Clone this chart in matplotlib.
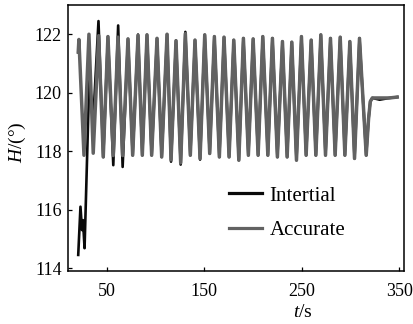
import matplotlib as mpl
import matplotlib.pyplot as plt

# accurate heading: start, alternating peaks / troughs, settle
acc_t = [20.5, 21.2, 26.4, 31.5, 35.9, 41.5, 46.2, 51.0, 56.5, 61.3, 66.1,
         71.6, 76.4, 81.9, 86.3, 91.1, 95.9, 101.4, 106.2, 111.7, 115.8,
         120.9, 125.7, 130.5, 135.6, 140.4, 145.6, 150.4, 155.5, 160.3, 165.4,
         170.2, 175.4, 180.2, 185.4, 190.1, 195.2, 200.1, 205.2, 210.0, 215.2,
         219.9, 225.0, 230.2, 235.0, 239.8, 244.6, 249.7, 254.5, 259.7, 264.5,
         269.6, 274.4, 279.5, 284.3, 289.5, 294.3, 299.4, 304.2, 309.3, 316.2,
         318.6, 320.4, 322.5, 330.0, 340.0, 348.0]
acc_h = [121.39, 121.82, 117.86, 122.00, 117.93, 121.95, 117.80, 121.92, 117.85, 121.90, 117.85,
         121.84, 117.86, 121.96, 117.86, 121.98, 117.86, 121.86, 117.80, 122.00, 117.70,
         121.78, 117.60, 122.02, 117.86, 121.80, 117.75, 121.98, 117.92, 121.92, 117.80,
         121.90, 117.80, 121.80, 117.69, 121.86, 117.86, 121.84, 117.86, 121.92, 117.86,
         121.86, 117.80, 121.75, 117.80, 121.73, 117.69, 121.92, 117.86, 121.80, 117.86,
         121.98, 117.86, 121.86, 117.86, 121.90, 117.86, 121.75, 117.75, 121.86, 117.86,
         119.10, 119.70, 119.82, 119.82, 119.82, 119.85]

# inertial heading before it locks on
ine_t_start = [20.5, 22.8, 24.4, 25.4, 27.0, 31.8, 36.0, 41.3, 46.2, 51.0, 56.5, 61.5, 66.1]
ine_h_start = [114.45, 116.10, 115.30, 115.64, 114.68, 120.42, 119.10, 122.45, 117.80, 121.92, 117.52, 122.30, 117.46]
# afterwards it follows the accurate curve, with these small excursions
ine_tips = {81.9: 121.99, 115.8: 117.64, 125.7: 117.54, 130.5: 122.08, 145.6: 117.71, 330.0: 119.76}

labels = ["Intertial", "Accurate"]
xticks = [50, 150, 250, 350]
yticks = [114, 116, 118, 120, 122]

ine_t = ine_t_start + acc_t[11:]
ine_h = ine_h_start + [ine_tips.get(t, h) for t, h in zip(acc_t[11:], acc_h[11:])]

mpl.rc('font', family='Liberation Serif')
mpl.rc('mathtext', fontset='custom', rm='Liberation Serif', it='Liberation Serif:italic')

fig = plt.figure(figsize=(4.14, 3.24), dpi=100)
ax = fig.add_axes([68/414, 1-271/324, 336/414, 266/324])

ax.plot(ine_t, ine_h, color='#0a0a0a', linewidth=1.9, solid_joinstyle='round', label=labels[0], zorder=2)
ax.plot(acc_t, acc_h, color='#626262', linewidth=2.5, solid_joinstyle='round', label=labels[1], zorder=3)

ax.set_xlim(10, 355)
ax.set_ylim(113.9, 123.0)
ax.set_xticks(xticks)
ax.set_yticks(yticks)
ax.tick_params(direction='in', length=3, width=0.9, labelsize=13, top=False, right=False)
ax.tick_params(axis='x', pad=8.5)
ax.tick_params(axis='y', pad=4.5)
for s in ax.spines.values():
    s.set_linewidth(1.1)

ax.set_xlabel(r'$t$/s', fontsize=14)
ax.xaxis.set_label_coords(0.70, -0.125)
ax.set_ylabel(r'$H$/(°)', fontsize=14)
ax.yaxis.set_label_coords(-0.118, 0.485)

leg = ax.legend(loc='center left', bbox_to_anchor=(0.454, 0.218), borderaxespad=0, frameon=False,
                fontsize=15, handlelength=1.6, handletextpad=0.35, labelspacing=0.7)
for h in leg.get_lines():
    h.set_linewidth(2.3)

fig.savefig('out.png', dpi=100)
